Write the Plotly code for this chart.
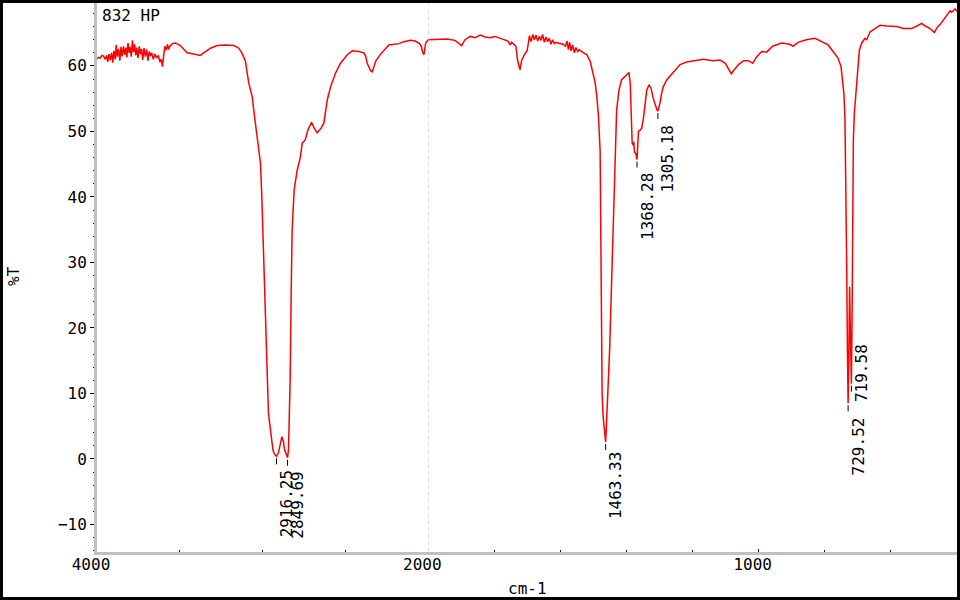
import numpy as np
import plotly.graph_objects as go

# ---------------- data ----------------
wavenumber = [
    4000, 3990, 3980, 3970, 3960, 3950, 3942, 3935, 3928, 3920, 3912, 3905, 3898, 3890,
    3884, 3877, 3870, 3862, 3855, 3848, 3840, 3833, 3826, 3820, 3813, 3806, 3800, 3793,
    3786, 3780, 3773, 3766, 3760, 3752, 3745, 3738, 3731, 3724, 3716, 3708, 3700, 3692,
    3685, 3677, 3670, 3660, 3650, 3640, 3630, 3620, 3612, 3605, 3598, 3590, 3582, 3575,
    3568, 3560, 3545, 3527, 3497, 3456, 3416, 3376, 3356, 3315, 3275, 3225, 3174, 3144,
    3124, 3104, 3084, 3063, 3049, 3033, 3013, 3005, 2997, 2990, 2982, 2975, 2965, 2955,
    2944, 2938, 2930, 2916.25, 2905, 2894, 2884, 2874, 2868, 2858, 2849.69, 2844, 2838,
    2834, 2828, 2822, 2810, 2792, 2773, 2761, 2743, 2727, 2705, 2689, 2671, 2647, 2630,
    2620, 2610, 2590, 2560, 2530, 2489, 2459, 2419, 2389, 2378, 2369, 2358, 2349, 2338,
    2330, 2318, 2288, 2238, 2177, 2147, 2107, 2079, 2056, 2042, 2036, 2026, 2016, 2000,
    1973, 1944, 1919, 1907, 1899, 1889, 1873, 1858, 1843, 1828, 1813, 1798, 1783, 1773,
    1759, 1752, 1748, 1741, 1735, 1730, 1726, 1722.5, 1720, 1717, 1707, 1701, 1697, 1694,
    1689, 1684, 1679, 1674, 1669, 1664, 1659, 1654, 1649, 1644, 1639, 1634, 1629, 1624,
    1619, 1614, 1608, 1600, 1592, 1585, 1580, 1576, 1572, 1568, 1563, 1558, 1553, 1548,
    1543, 1537, 1528, 1520, 1510, 1503, 1495, 1490, 1485, 1480, 1478, 1476, 1474, 1471,
    1468, 1466, 1463.33, 1461, 1458, 1456, 1451, 1447, 1442, 1438, 1435, 1430, 1423, 1415,
    1400, 1393, 1389, 1387, 1385, 1383, 1380, 1378, 1376, 1372, 1368.28, 1366, 1364, 1359,
    1354, 1349, 1344, 1339, 1332, 1326, 1319, 1312, 1308, 1305.18, 1302, 1299, 1294, 1289,
    1278, 1258, 1238, 1218, 1188, 1168, 1138, 1117, 1101, 1091, 1083, 1076, 1061, 1046,
    1031, 1018, 1006, 991, 976, 958, 931, 906, 896, 881, 856, 830, 810, 790, 775, 760,
    751, 746, 742, 739, 736, 733.5, 731.5, 729.52, 727.5, 726, 725, 723, 721, 719.58,
    717.5, 715.5, 713.7, 710.6, 705.5, 700.4, 695.5, 688.3, 678.3, 673.1, 663, 648, 633,
    612.6, 582.3, 562.3, 537, 517, 506.7, 499.7, 481.5, 468.5, 459.4, 451.3, 441.3, 431,
    421, 416, 406, 400,
]
transmittance = [
    61.1, 61.3, 61.2, 61.6, 61.5, 61.0, 61.6, 60.6, 61.8, 60.9, 62.0, 60.5, 62.3, 61.0,
    63.2, 61.4, 62.6, 60.8, 62.9, 61.5, 63.0, 61.7, 62.8, 61.3, 63.5, 62.0, 62.9, 61.4,
    63.9, 62.1, 63.3, 61.6, 62.8, 61.2, 63.0, 61.8, 62.6, 60.9, 62.7, 61.4, 62.5, 60.8,
    62.2, 61.5, 62.0, 61.0, 61.8, 61.2, 61.6, 60.6, 61.0, 59.9, 61.5, 63.0, 62.4, 63.3,
    62.5, 63.0, 63.4, 63.5, 63.1, 62.0, 61.8, 61.6, 62.0, 62.7, 63.1, 63.2, 63.1, 62.7,
    61.9, 60.7, 57.4, 55.3, 52.3, 49.2, 45.1, 40.0, 33.0, 25.0, 18.0, 12.0, 7.0, 4.9,
    2.9, 1.4, 0.8, 0.4, 0.9, 2.1, 3.4, 2.6, 1.4, 0.8, 0.2, 1.4, 7.0,
    12.0, 25.0, 35.0, 41.0, 44.0, 46.0, 48.2, 48.7, 50.2, 51.4, 50.5, 49.8, 50.5, 51.3,
    52.8, 54.8, 56.8, 58.9, 60.4, 61.7, 62.3, 62.2, 62.0, 61.5, 60.4, 59.7, 59.3, 59.1,
    59.8, 60.7, 61.8, 63.2, 63.4, 63.7, 63.9, 63.8, 63.5, 63.0, 62.2, 61.7, 63.5, 64.0,
    64.1, 64.1, 63.9, 63.5, 63.1, 64.0, 64.5, 64.3, 64.7, 64.4, 64.3, 64.5, 64.2, 64.0,
    63.8, 63.2, 63.6, 63.3, 63.0, 60.9, 59.8, 59.4, 60.2, 60.9, 61.9, 62.3, 63.5, 64.6,
    63.7, 64.8, 64.0, 64.7, 63.8, 64.5, 63.9, 64.8, 63.6, 64.4, 63.7, 64.2, 63.3, 64.0,
    63.4, 63.6, 63.5, 63.4, 63.3, 63.0, 63.8, 62.5, 63.6, 62.3, 63.2, 62.0, 62.8, 62.2,
    62.5, 62.2, 61.9, 61.7, 60.7, 59.1, 57.4, 55.3, 52.3, 47.0, 35.0, 20.0, 10.0, 6.5,
    4.5, 3.5, 2.6, 5.0, 8.0, 10.0, 17.0, 24.0, 33.0, 40.0, 45.6, 53.3, 56.3, 57.9,
    58.6, 59.0, 57.5, 55.0, 51.0, 48.2, 47.9, 48.4, 46.8, 46.6, 45.7, 48.5, 50.0, 50.2,
    50.5, 52.0, 54.6, 56.3, 57.1, 56.6, 55.0, 53.8, 53.3, 53.1, 53.6, 54.3, 55.8, 56.8,
    57.9, 59.1, 60.2, 60.6, 60.8, 61.0, 60.8, 60.9, 60.4, 59.6, 58.8, 59.3, 60.2, 60.8,
    60.8, 60.4, 61.4, 62.2, 62.1, 63.0, 63.5, 63.3, 63.0, 63.6, 64.0, 64.2, 63.7, 63.2, 62.2, 61.2,
    59.9, 57.6, 55.6, 51.8, 42.0, 28.0, 16.0, 8.5, 14.0, 22.0, 26.3, 20.0, 14.0, 11.5,
    22.0, 38.0, 48.7, 52.8, 56.3, 59.9, 62.4, 63.5, 64.2, 64.0, 65.2, 65.7, 66.2,
    66.1, 66.0, 65.7, 65.7, 66.2, 66.5, 66.2, 65.7, 65.1, 65.9, 66.3, 67.0, 67.6,
    68.4, 68.2, 68.7, 68.3,
]

peak_wavenumbers = [2916.25, 2849.69, 1463.33, 1368.28, 1305.18, 729.52, 719.58]
peak_labels = ["2916.25", "2849.69", "1463.33", "1368.28", "1305.18", "729.52", "719.58"]

x_tick_left = [4000]
x_tick_right = [2000, 1000]
y_ticks = [-10, 0, 10, 20, 30, 40, 50, 60]

sample_name = "832 HP"
x_title = "cm-1"
y_title = "%T"

# ---------------- styling ----------------
FONT = "DejaVu Sans Mono"
W, H = 960, 600
ML, MR, MT, MB = 97, 3, 3, 48
PW, PH = W - ML - MR, H - MT - MB
SPLIT = (428.3 - ML) / PW          # domain fraction where 2000 cm-1 sits
AXIS_GREY = "#c0c0c0"

# per-label offsets (pixels): (yshift, yanchor)
label_style = {
    "719.58": (-20, "bottom"),
    "1463.33": (-8, "top"),
}
default_label_style = (-12, "top")

wn = np.array(wavenumber, dtype=float)
tr = np.array(transmittance, dtype=float)
left = wn >= 2000
right = wn <= 2000

fig = go.Figure()
fig.add_trace(go.Scatter(x=wn[left], y=tr[left], mode="lines", xaxis="x", yaxis="y",
                         line=dict(color="#ff0000", width=1.5), showlegend=False,
                         hoverinfo="skip"))
fig.add_trace(go.Scatter(x=wn[right], y=tr[right], mode="lines", xaxis="x2", yaxis="y",
                         line=dict(color="#ff0000", width=1.5), showlegend=False,
                         hoverinfo="skip"))

common_x = dict(showline=True, linecolor=AXIS_GREY, linewidth=3, showgrid=False,
                zeroline=False, ticks="inside", ticklen=3, tickcolor="black", tickwidth=1,
                tickfont=dict(family=FONT, size=16, color="black"), anchor="y",
                ticklabelshift=6, ticklabelstandoff=-4, automargin=False)

fig.update_layout(
    template="none",
    width=W, height=H,
    margin=dict(l=ML, r=MR, t=MT, b=MB, pad=0, autoexpand=False),
    paper_bgcolor="white", plot_bgcolor="white",
    showlegend=False,
    xaxis=dict(domain=[0, SPLIT], range=[4000, 2000], tickvals=x_tick_left,
               ticktext=[str(v) for v in x_tick_left],
               minor=dict(tickvals=[3500, 3000, 2500], ticks="inside", ticklen=2,
                          tickcolor="black"),
               **common_x),
    xaxis2=dict(domain=[SPLIT, 1], range=[2000, 400], tickvals=x_tick_right,
                ticktext=[str(v) for v in x_tick_right],
                minor=dict(dtick=200, tick0=0, ticks="inside", ticklen=2,
                           tickcolor="black"),
                **common_x),
    yaxis=dict(range=[-14.2, 69.6], tickvals=y_ticks,
               ticktext=[str(v).replace("-", "\u2212") for v in y_ticks],
               showline=True, linecolor=AXIS_GREY, linewidth=3, showgrid=False,
               zeroline=False, ticks="outside", ticklen=4, tickcolor="black",
               tickfont=dict(family=FONT, size=16, color="black"),
               minor=dict(dtick=2, ticks="outside", ticklen=1, tickcolor="black"),
               anchor="x", automargin=False),
)

shapes = []
# dashed guide at the 2000 split
shapes.append(dict(type="line", xref="x2", yref="paper", x0=2000, x1=2000, y0=0, y1=1,
                   line=dict(color=AXIS_GREY, width=1, dash="4px,3px"), layer="below"))

annotations = []
lookup = dict(zip(wavenumber, transmittance))
for w, lab in zip(peak_wavenumbers, peak_labels):
    t = lookup[w]
    xr = "x" if w >= 2000 else "x2"
    shapes.append(dict(type="line", xref=xr, yref="y", ysizemode="pixel", yanchor=t,
                       x0=w, x1=w, y0=-2, y1=-8, line=dict(color="black", width=1)))
    ys, ya = label_style.get(lab, default_label_style)
    annotations.append(dict(x=w, y=t, xref=xr, yref="y", text=lab, showarrow=False,
                            textangle=-90, xanchor="center", yanchor=ya, xshift=10,
                            yshift=ys, font=dict(family=FONT, size=16, color="black")))

# outer black frame of the picture
shapes.append(dict(type="rect", xref="paper", yref="paper",
                   x0=(1.5 - ML) / PW, x1=(W - 1.5 - ML) / PW,
                   y0=(PH + MT - (H - 1.5)) / PH, y1=(PH + MT - 1.5) / PH,
                   line=dict(color="black", width=3), layer="above"))

annotations.append(dict(xref="paper", yref="paper", x=(100 - ML) / PW,
                        y=(PH + MT - 16) / PH, text=sample_name, showarrow=False,
                        xanchor="left", yanchor="middle",
                        font=dict(family=FONT, size=16, color="black")))
annotations.append(dict(xref="paper", yref="paper", x=(527 - ML) / PW,
                        y=(PH + MT - 588) / PH, text=x_title, showarrow=False,
                        xanchor="center", yanchor="middle",
                        font=dict(family=FONT, size=16, color="black")))
annotations.append(dict(xref="paper", yref="paper", x=(13 - ML) / PW,
                        y=(PH + MT - 276) / PH, text=y_title, showarrow=False,
                        textangle=-90, xanchor="center", yanchor="middle",
                        font=dict(family=FONT, size=16, color="black")))

fig.update_layout(shapes=shapes, annotations=annotations)
fig.write_html("out.html",
               config={"displayModeBar": False},
               post_script="document.body.style.margin='0px';"
                           "document.body.style.padding='0px';")
